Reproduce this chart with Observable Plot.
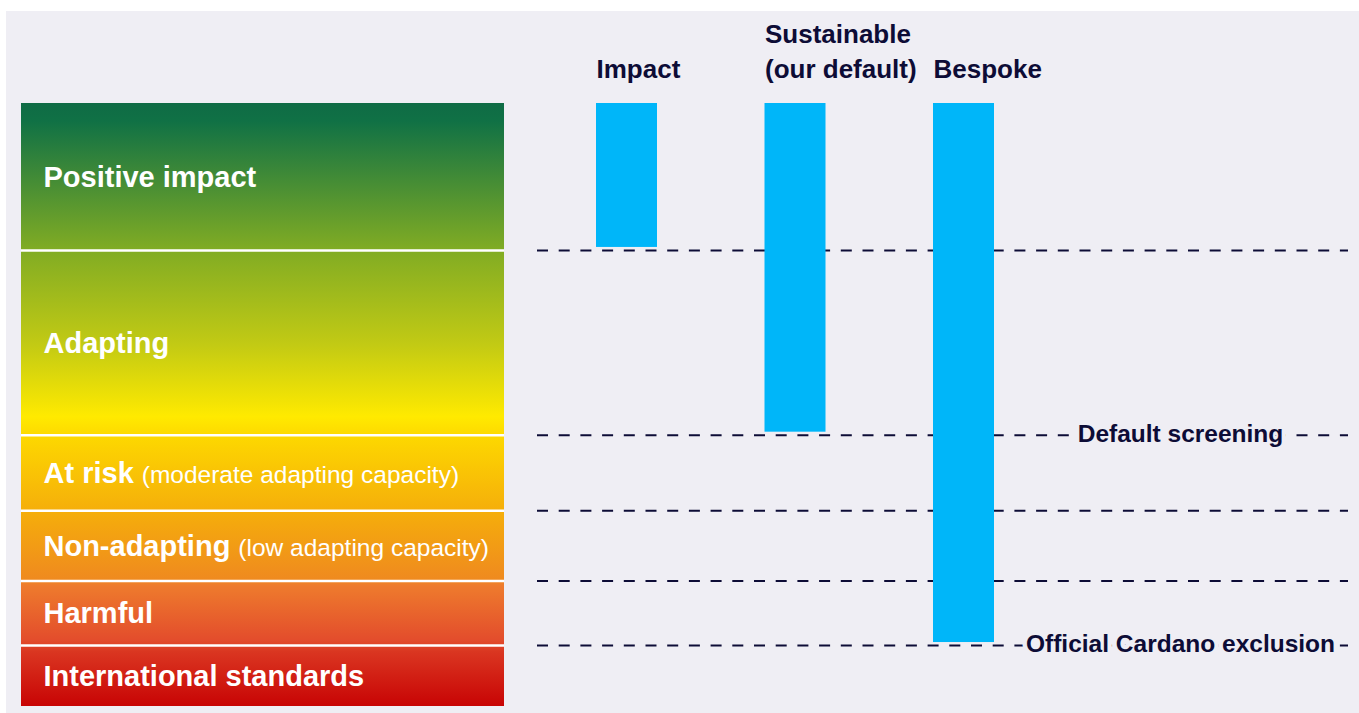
<!DOCTYPE html>
<html><head><meta charset="utf-8">
<script src="https://cdn.jsdelivr.net/npm/d3@7"></script>
<script src="https://cdn.jsdelivr.net/npm/@observablehq/plot@0.6"></script>
<style>
html,body{margin:0;padding:0;background:#fff;}
#chart{position:absolute;left:6px;top:11px;width:1353px;height:702px;background:#efeef4;overflow:hidden;}
#chart svg{position:absolute;top:0;background:transparent;overflow:visible;}
</style></head><body><div id="chart"></div>
<script>
// ---- data ----
const levels = ["Positive impact","Adapting","At risk","Non-adapting","Harmful","International standards"];
const levelNotes = ["","","(moderate adapting capacity)","(low adapting capacity)","",""];
const levelWeight = [2.41, 3.03, 1.24, 1.15, 1.06, 1.0];
const products = ["Impact","Sustainable\n(our default)","Bespoke"];
const productFloor = ["Positive impact","Adapting","Harmful"];
const thresholdAfter = ["Adapting","Harmful"];
const thresholdLabels = ["Default screening","Official Cardano exclusion"];

// ---- derived tables ----
let acc = 0;
const levelTable = levels.map((name, i) => {
  const start = acc; acc += levelWeight[i];
  return {name, note: levelNotes[i], start, end: acc};
});
const total = acc;
const endOf = name => levelTable.find(d => d.name === name).end;
const boundaries = levelTable.slice(0, -1).map(d => d.end);
const productTable = products.map((p, i) => ({product: p, floor: endOf(productFloor[i])}));
const thresholdTable = thresholdLabels.map((label, i) => ({label, value: endOf(thresholdAfter[i])}));

const BG = "#efeef4", NAVY = "#0d0c36", CYAN = "#00b6f9";
const FONT = "'Liberation Sans', Arial, sans-serif";
const H = 702, MT = 92, MB = 7;
const yScale = {domain: [0, total], reverse: true, axis: null};

const gradientStops = [
  [0, "#0f6b45"], [0.03, "#107145"], [0.24, "#7fab24"], [0.40, "#c2ca14"],
  [0.52, "#ffea00"], [0.555, "#fdd700"], [0.68, "#f5ad0b"], [0.79, "#ef8a1f"],
  [0.80, "#ee7b2d"], [0.89, "#e34d2c"], [0.91, "#da3621"], [1, "#c80404"]
];

function gradientDefs(index, scales) {
  const defs = d3.create("svg:defs");
  const g = defs.append("linearGradient")
    .attr("id", "levelGradient")
    .attr("gradientUnits", "userSpaceOnUse")
    .attr("x1", 0).attr("x2", 0)
    .attr("y1", scales.y(0)).attr("y2", scales.y(total));
  for (const [o, c] of gradientStops) g.append("stop").attr("offset", o).attr("stop-color", c);
  return defs.node();
}

// ---- left panel ----
const left = Plot.plot({
  width: 520, height: H, marginTop: MT, marginBottom: MB, marginLeft: 15, marginRight: 22,
  style: {fontFamily: FONT, background: "transparent"},
  y: yScale,
  marks: [
    gradientDefs,
    Plot.rect(levelTable, {y1: "start", y2: "end", fill: "url(#levelGradient)"}),
    Plot.ruleY(boundaries, {stroke: "white", strokeWidth: 2.5}),
    Plot.text(levelTable, {
      y: d => (d.start + d.end) / 2, text: "name", frameAnchor: "left", textAnchor: "start",
      dx: 22, dy: 1, fill: "white", fontSize: 29, fontWeight: "bold", lineAnchor: "middle"
    })
  ]
});
left.style.left = "0px";
d3.select(left).selectAll("g[aria-label='text'] text").each(function(_, i) {
  const note = levelTable[i] && levelTable[i].note;
  if (note) d3.select(this).append("tspan").attr("dx", 8).attr("font-weight", "normal").attr("font-size", 24.5).text(note);
});

// ---- right part ----
const right = Plot.plot({
  width: 833, height: H, marginTop: MT, marginBottom: MB, marginLeft: 11, marginRight: 11,
  style: {fontFamily: FONT, background: "transparent", overflow: "visible"},
  y: yScale,
  x: {type: "band", domain: products, range: [70, 468], paddingInner: 0.638, paddingOuter: 0, round: false, axis: null},
  marks: [
    Plot.ruleY(boundaries, {stroke: NAVY, strokeWidth: 2, strokeDasharray: "11,10.7"}),
    Plot.barY(productTable, {x: "product", y: "floor", fill: CYAN, insetBottom: 3}),
    Plot.text(thresholdTable, {
      y: "value", text: "label", frameAnchor: "right", textAnchor: "middle", dx: -168, dy: -1.5,
      fill: NAVY, stroke: BG, strokeWidth: 9, strokeLinejoin: "round", paintOrder: "stroke", fontSize: 24.5, fontWeight: "bold"
    }),
    Plot.text(productTable, {
      x: "product", text: "product", frameAnchor: "top", lineAnchor: "bottom", textAnchor: "start",
      dx: -30.5, dy: -26, lineHeight: 1.31, fill: NAVY, fontSize: 26, fontWeight: "bold"
    })
  ]
});
right.style.left = "520px";

document.getElementById("chart").append(left, right);
</script></body></html>
